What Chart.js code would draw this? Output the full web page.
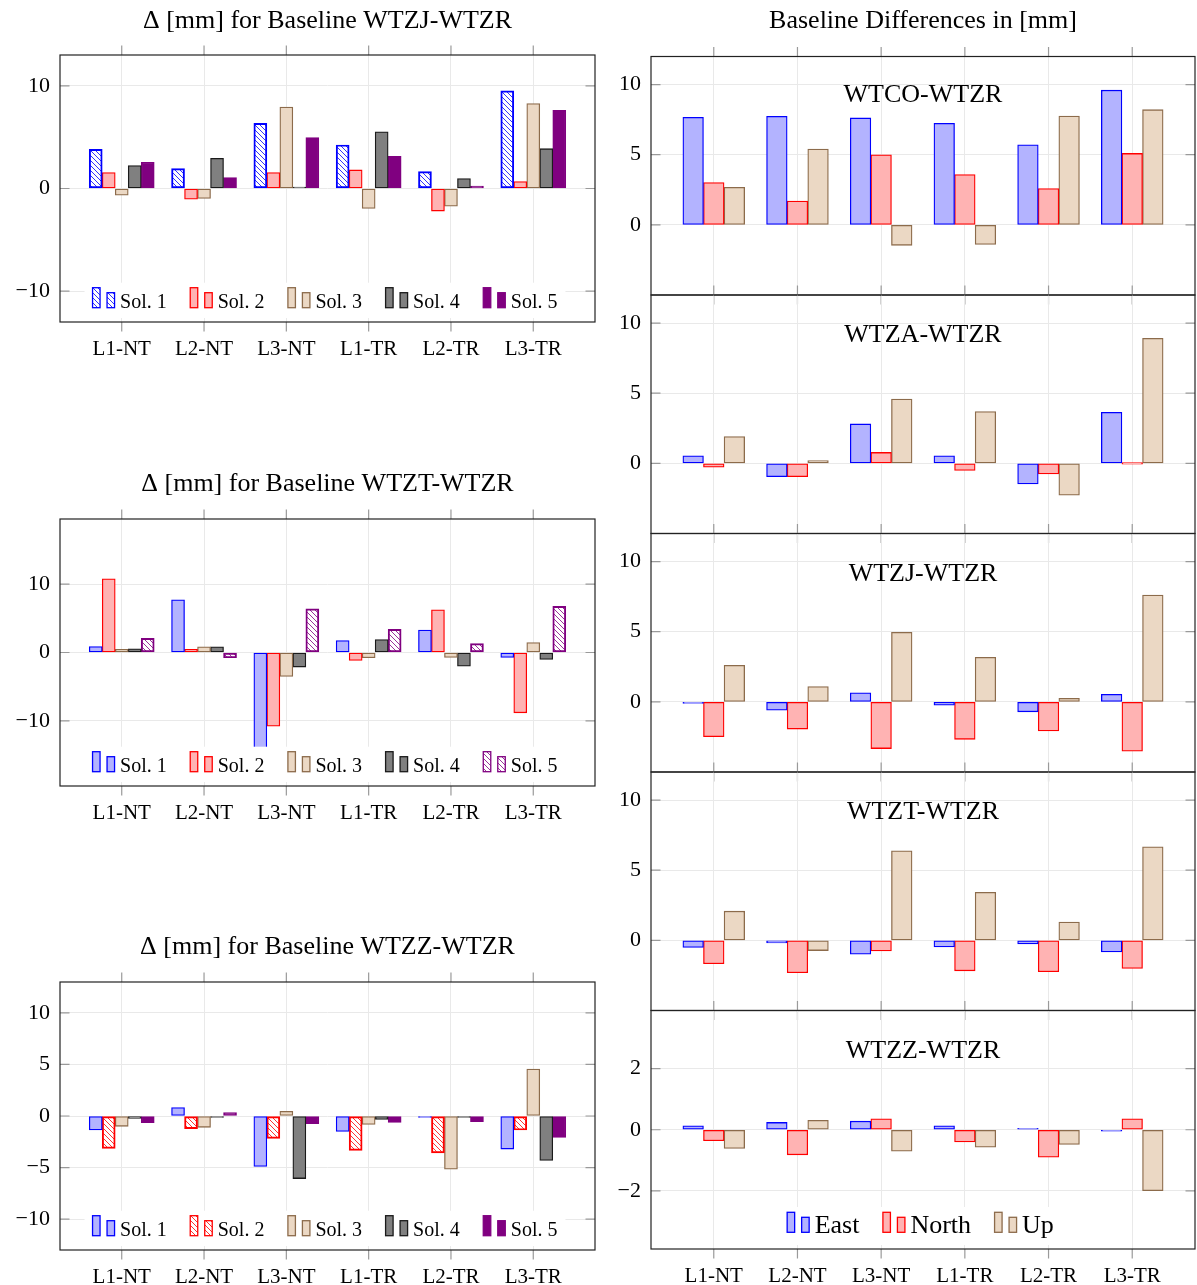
<!DOCTYPE html>
<html>
<head>
<meta charset="utf-8">
<title>Baseline differences</title>
<script src="https://cdn.jsdelivr.net/npm/chart.js@4/dist/chart.umd.min.js"></script>
<style>
  html, body { margin: 0; padding: 0; background: #fff; overflow: hidden; }
  #wrap { position: relative; width: 1197px; height: 1285px; }
  #wrap canvas { position: absolute; left: 0; top: 0; }
</style>
</head>
<body>
<div id="wrap"></div>
<script>
// ---------- data ----------
const categories = ['L1-NT', 'L2-NT', 'L3-NT', 'L1-TR', 'L2-TR', 'L3-TR'];
const solLabels = ['Sol. 1', 'Sol. 2', 'Sol. 3', 'Sol. 4', 'Sol. 5'];
const enuLabels = ['East', 'North', 'Up'];

// Δ [mm], baseline WTZJ-WTZR, per solution
const wtzjSol1 = [3.82, 1.94, 6.34, 4.24, 1.65, 9.51];
const wtzjSol2 = [1.55, -1.04, 1.55, 1.81, -2.2, 0.68];
const wtzjSol3 = [-0.65, -0.97, 7.93, -1.94, -1.72, 8.28];
const wtzjSol4 = [2.23, 2.94, 0.1, 5.53, 0.97, 3.88];
const wtzjSol5 = [2.56, 1.07, 4.95, 3.14, 0.23, 7.6];

// Δ [mm], baseline WTZT-WTZR
const wtztSol1 = [0.87, 7.7, -15.0, 1.74, 3.29, -0.73];
const wtztSol2 = [10.75, 0.48, -10.75, -1.16, 6.25, -8.81];
const wtztSol3 = [0.48, 0.82, -3.49, -0.77, -0.73, 1.45];
const wtztSol4 = [0.53, 0.82, -2.13, 1.89, -1.99, -1.02];
const wtztSol5 = [2.08, -0.77, 6.39, 3.39, 1.31, 6.73];

// Δ [mm], baseline WTZZ-WTZR
const wtzzSol1 = [-1.36, 0.81, -4.9, -1.49, -0.03, -3.21];
const wtzzSol2 = [-3.15, -1.23, -2.18, -3.34, -3.57, -1.36];
const wtzzSol3 = [-1.0, -1.1, 0.45, -0.81, -5.16, 4.55];
const wtzzSol4 = [-0.23, -0.06, -6.07, -0.32, -0.03, -4.32];
const wtzzSol5 = [-0.65, 0.32, -0.75, -0.62, -0.55, -2.08];

// Baseline differences in [mm], East / North / Up
const wtcoEast  = [7.67, 7.74, 7.62, 7.24, 5.71, 9.6];
const wtcoNorth = [3.02, 1.7, 5.0, 3.58, 2.59, 5.09];
const wtcoUp    = [2.67, 5.4, -1.46, -1.39, 7.76, 8.21];

const wtzaEast  = [0.54, -0.95, 2.81, 0.54, -1.47, 3.64];
const wtzaNorth = [-0.28, -0.95, 0.78, -0.5, -0.76, 0.0];
const wtzaUp    = [1.91, 0.19, 4.59, 3.69, -2.27, 8.91];

const wtzjEast  = [-0.12, -0.59, 0.64, -0.24, -0.71, 0.54];
const wtzjNorth = [-2.48, -1.94, -3.33, -2.67, -2.08, -3.52];
const wtzjUp    = [2.6, 1.09, 4.96, 3.17, 0.26, 7.61];

const wtztEast  = [-0.5, -0.19, -0.99, -0.47, -0.26, -0.83];
const wtztNorth = [-1.67, -2.31, -0.75, -2.17, -2.24, -2.0];
const wtztUp    = [2.08, -0.73, 6.39, 3.42, 1.3, 6.67];

const wtzzEast  = [0.13, 0.24, 0.28, 0.13, 0.04, -0.05];
const wtzzNorth = [-0.36, -0.82, 0.36, -0.4, -0.9, 0.36];
const wtzzUp    = [-0.61, 0.31, -0.7, -0.57, -0.48, -1.99];

// tick values
const ticksLeftA = [-10, 0, 10];
const ticksLeftB = [-10, -5, 0, 5, 10];
const ticksRight = [0, 5, 10];
const ticksRightSmall = [-2, 0, 2];

// ---------- styling ----------
const W = 1197, H = 1285;
const FONT = "'Liberation Serif', 'Times New Roman', serif";
const GRID = '#e9e9e9';
const TICK = '#9a9a9a';
const STY = {
  blue:   { fill: '#b3b3ff', line: '#0000ff' },
  red:    { fill: '#ffb3b3', line: '#ff0000' },
  brown:  { fill: '#ebd8c4', line: '#8c6b4b' },
  gray:   { fill: '#808080', line: '#1a1a1a' },
  purple: { fill: '#800080', line: '#800080' }
};
const solStyles = ['blue', 'red', 'brown', 'gray', 'purple'];

// north-west diagonal line fill
function hatch(color) {
  const s = 5, c = document.createElement('canvas');
  c.width = s; c.height = s;
  const g = c.getContext('2d');
  g.strokeStyle = color; g.lineWidth = 0.8;
  g.beginPath();
  g.moveTo(0, 0); g.lineTo(s, s);
  g.moveTo(-1, s - 1); g.lineTo(1, s + 1);
  g.moveTo(s - 1, -1); g.lineTo(s + 1, 1);
  g.stroke();
  return g.createPattern(c, 'repeat');
}

function fmtTick(v) { return v < 0 ? '\u2212' + Math.abs(v) : String(v); }

// frame, inner/outer tick marks, titles and the bar-style legend
const framePlugin = {
  id: 'frame',
  afterDatasetsDraw(chart, args, o) {
    const lg = o.legend;
    if (!lg || !lg.size) return;
    const ctx = chart.ctx, ca = chart.chartArea, ds = chart.data.datasets;
    ctx.save();
    ctx.font = lg.size + 'px ' + FONT;
    const iconW = 27.5, gap = 23.5;
    const widths = ds.map(d => ctx.measureText(d.label).width);
    const total = widths.reduce((a, w) => a + iconW + w, 0) + gap * (ds.length - 1);
    const cx = (ca.left + ca.right) / 2 - 2.5;
    let x = cx - total / 2;
    const top = ca.bottom - lg.top, bot = ca.bottom - lg.bottom, iconB = ca.bottom - lg.iconBottom;
    ctx.fillStyle = '#fff';
    ctx.fillRect(x - lg.pad, top, total + 2 * lg.pad, bot - top);
    ds.forEach((d, k) => {
      const bars = [[x, 20], [x + 14.5, 15]];
      bars.forEach(([bx, h]) => {
        ctx.fillStyle = d.backgroundColor;
        ctx.fillRect(bx, iconB - h, 7.5, h);
        ctx.strokeStyle = d.borderColor; ctx.lineWidth = 1.3;
        ctx.strokeRect(bx, iconB - h, 7.5, h);
      });
      ctx.fillStyle = '#000';
      ctx.textAlign = 'left'; ctx.textBaseline = 'alphabetic';
      ctx.fillText(d.label, x + 27.5, iconB + 0.5);
      x += iconW + widths[k] + gap;
    });
    ctx.restore();
  },
  afterDraw(chart, args, o) {
    const ctx = chart.ctx, ca = chart.chartArea;
    const xs = chart.scales.x, ys = chart.scales.y;
    ctx.save();
    // tick marks: y inside on both sides, x outside on top and bottom
    ctx.strokeStyle = TICK; ctx.lineWidth = 1.2;
    ctx.beginPath();
    ys.ticks.forEach(t => {
      const p = ys.getPixelForValue(t.value);
      ctx.moveTo(ca.left, p); ctx.lineTo(ca.left + 9.5, p);
      ctx.moveTo(ca.right, p); ctx.lineTo(ca.right - 9.5, p);
    });
    xs.ticks.forEach(t => {
      const p = xs.getPixelForValue(t.value);
      ctx.moveTo(p, ca.top); ctx.lineTo(p, ca.top - 9.5);
      ctx.moveTo(p, ca.bottom); ctx.lineTo(p, ca.bottom + 9.5);
    });
    ctx.stroke();
    // axis frame
    ctx.strokeStyle = '#222'; ctx.lineWidth = 1.2;
    ctx.strokeRect(ca.left, ca.top, ca.right - ca.left, ca.bottom - ca.top);
    // titles
    ctx.fillStyle = '#000'; ctx.textAlign = 'center'; ctx.textBaseline = 'alphabetic';
    if (o.title && o.title.text) {
      ctx.font = o.title.size + 'px ' + FONT;
      ctx.fillText(o.title.text, (ca.left + ca.right) / 2, o.title.y);
    }
    if (o.inner && o.inner.text) {
      ctx.font = o.inner.size + 'px ' + FONT;
      ctx.fillText(o.inner.text, (ca.left + ca.right) / 2, ca.top + o.inner.dy);
    }
    ctx.restore();
  }
};
Chart.register(framePlugin);

function makeChart(c) {
  const cv = document.createElement('canvas');
  cv.width = W; cv.height = H;
  cv.style.width = W + 'px'; cv.style.height = H + 'px';
  document.getElementById('wrap').appendChild(cv);

  const datasets = c.series.map((s, k) => {
    const st = STY[s.style];
    return {
      label: s.label,
      data: s.values.map((v, i) => ({ x: i, y: v })),
      backgroundColor: s.hatched ? hatch(st.line) : st.fill,
      borderColor: st.line,
      borderWidth: 1.3,
      borderSkipped: false,
      barThickness: c.barW,
      minBarLength: 1.5
    };
  });

  return new Chart(cv, {
    type: 'bar',
    data: { datasets },
    options: {
      responsive: false,
      animation: false,
      events: [],
      devicePixelRatio: 1,
      layout: { padding: { left: 0, top: c.box.t, right: W - c.box.r, bottom: 0 } },
      plugins: {
        legend: { display: false },
        tooltip: { enabled: false },
        frame: { title: c.title || {}, inner: c.inner || {}, legend: c.legend || {} }
      },
      scales: {
        x: {
          type: 'linear',
          min: -0.75, max: 5.75,
          offset: false,
          grid: { offset: false, color: GRID, lineWidth: 1, drawTicks: false },
          border: { display: false },
          afterBuildTicks: s => { s.ticks = categories.map((_, i) => ({ value: i })); },
          ticks: {
            display: !!c.showX,
            autoSkip: false, maxRotation: 0, minRotation: 0,
            padding: 15,
            color: '#000',
            font: { family: FONT, size: 21 },
            callback: v => categories[v]
          },
          afterFit: s => {
            s.height = H - c.box.b;
            s.paddingLeft = 0; s.paddingRight = 0; s.paddingTop = 0; s.paddingBottom = 0;
          }
        },
        y: {
          type: 'linear',
          min: c.ymin, max: c.ymax,
          beginAtZero: false,
          grid: { color: GRID, lineWidth: 1, drawTicks: false },
          border: { display: false },
          afterBuildTicks: s => { s.ticks = c.yticks.map(v => ({ value: v })); },
          ticks: {
            padding: 10,
            color: '#000',
            font: { family: FONT, size: 22 },
            callback: v => fmtTick(v)
          },
          afterFit: s => {
            s.width = c.box.l;
            s.paddingLeft = 0; s.paddingRight = 0; s.paddingTop = 0; s.paddingBottom = 0;
          }
        }
      }
    }
  });
}

// ---------- left column: per-solution Δ ----------
const leftBox = (t, b) => ({ l: 60, r: 595, t, b });
const leftLegend = { size: 20, top: 39.3, iconBottom: 14.3, bottom: 4, pad: 8 };
const solSeries = (vals, hatchedIdx) => vals.map((v, k) => ({
  label: solLabels[k], values: v, style: solStyles[k], hatched: k === hatchedIdx
}));

makeChart({
  box: leftBox(55, 322), ymin: -13, ymax: 13, yticks: ticksLeftA, barW: 13, showX: true,
  title: { text: '\u0394 [mm] for Baseline WTZJ-WTZR', size: 26, y: 27.5 },
  legend: leftLegend,
  series: solSeries([wtzjSol1, wtzjSol2, wtzjSol3, wtzjSol4, wtzjSol5], 0)
});
makeChart({
  box: leftBox(519, 786), ymin: -19.5, ymax: 19.5, yticks: ticksLeftA, barW: 13, showX: true,
  title: { text: '\u0394 [mm] for Baseline WTZT-WTZR', size: 26, y: 490.5 },
  legend: leftLegend,
  series: solSeries([wtztSol1, wtztSol2, wtztSol3, wtztSol4, wtztSol5], 4)
});
makeChart({
  box: leftBox(982, 1250), ymin: -13, ymax: 13, yticks: ticksLeftB, barW: 13, showX: true,
  title: { text: '\u0394 [mm] for Baseline WTZZ-WTZR', size: 26, y: 953.5 },
  legend: leftLegend,
  series: solSeries([wtzzSol1, wtzzSol2, wtzzSol3, wtzzSol4, wtzzSol5], 1)
});

// ---------- right column: East / North / Up per baseline ----------
const rightBox = (t, b) => ({ l: 651, r: 1195, t, b });
const enuSeries = (e, n, u) => [
  { label: enuLabels[0], values: e, style: 'blue' },
  { label: enuLabels[1], values: n, style: 'red' },
  { label: enuLabels[2], values: u, style: 'brown' }
];

makeChart({
  box: rightBox(56.5, 295), ymin: -5, ymax: 12, yticks: ticksRight, barW: 20.6,
  title: { text: 'Baseline Differences in [mm]', size: 26, y: 27.5 },
  inner: { text: 'WTCO-WTZR', size: 26, dy: 45.5 },
  series: enuSeries(wtcoEast, wtcoNorth, wtcoUp)
});
makeChart({
  box: rightBox(295, 533.5), ymin: -5, ymax: 12, yticks: ticksRight, barW: 20.6,
  inner: { text: 'WTZA-WTZR', size: 26, dy: 47 },
  series: enuSeries(wtzaEast, wtzaNorth, wtzaUp)
});
makeChart({
  box: rightBox(533.5, 772), ymin: -5, ymax: 12, yticks: ticksRight, barW: 20.6,
  inner: { text: 'WTZJ-WTZR', size: 26, dy: 47 },
  series: enuSeries(wtzjEast, wtzjNorth, wtzjUp)
});
makeChart({
  box: rightBox(772, 1010.5), ymin: -5, ymax: 12, yticks: ticksRight, barW: 20.6,
  inner: { text: 'WTZT-WTZR', size: 26, dy: 47 },
  series: enuSeries(wtztEast, wtztNorth, wtztUp)
});
makeChart({
  box: rightBox(1010.5, 1249), ymin: -3.9, ymax: 3.9, yticks: ticksRightSmall, barW: 20.6, showX: true,
  inner: { text: 'WTZZ-WTZR', size: 26, dy: 47 },
  legend: { size: 26, top: 42, iconBottom: 16.7, bottom: 4, pad: 9 },
  series: enuSeries(wtzzEast, wtzzNorth, wtzzUp)
});
</script>
</body>
</html>
